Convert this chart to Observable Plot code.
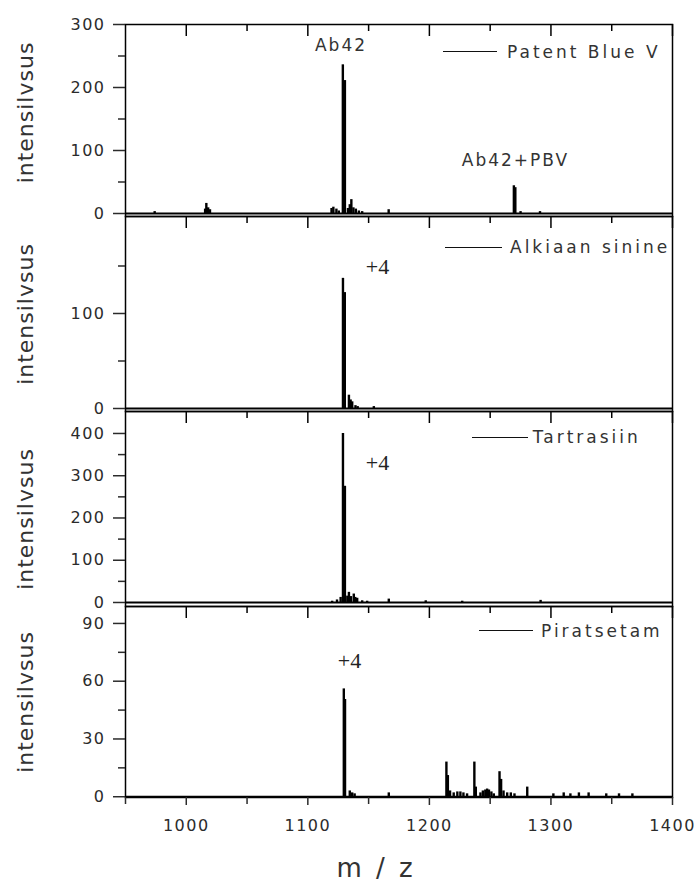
<!DOCTYPE html>
<html><head><meta charset="utf-8">
<script src="https://cdn.jsdelivr.net/npm/d3@7"></script>
<script src="https://cdn.jsdelivr.net/npm/@observablehq/plot@0.6"></script>
<style>
body{margin:0;background:#fff;}
#chart{position:relative;width:698px;height:886px;font-family:"DejaVu Sans",sans-serif;color:#2b2b2b;}
#chart svg{position:absolute;left:0;}
.legend{position:absolute;height:20px;display:flex;align-items:center;white-space:nowrap;font-size:17px;letter-spacing:3px;color:#333;font-family:"DejaVu Sans",sans-serif;}
.legend .swatch{display:inline-block;height:0;border-top:1.6px solid #111;}
</style></head><body><div id="chart"></div>
<script>
// ---------- data ----------
const xMajorTicks = [1000, 1100, 1200, 1300, 1400];
const xMinorTicks = [950, 1050, 1150, 1250, 1350];
const panelNames = ["Patent Blue V", "Alkiaan sinine", "Tartrasiin", "Piratsetam"];
const yAxisTitle = "intensilvsus";
const xAxisTitle = "m / z";
const yMajorTicks = [[0, 100, 200, 300], [0, 100], [0, 100, 200, 300, 400], [0, 30, 60, 90]];
const yMinorTicks = [[50, 150, 250], [50, 150], [50, 150, 250, 350], [15, 45, 75]];

// [m/z, intensity]
const patentBlueV = [
  [974, 3], [1015.5, 7], [1016.5, 16], [1018, 9], [1019.5, 6],
  [1119.5, 8], [1121, 10], [1123.5, 7], [1125.5, 4],
  [1128.8, 236], [1130.5, 211], [1133, 8], [1134.5, 14], [1135.8, 22],
  [1137.5, 9], [1139.5, 7], [1142, 4], [1144.7, 3], [1166.5, 6],
  [1269.5, 44], [1270.7, 41], [1275, 3], [1291, 3]
];
const alkiaanSinine = [
  [1128.9, 137], [1130.4, 122], [1133.8, 14], [1135.2, 9], [1136.5, 7],
  [1139.2, 3], [1141, 2], [1154.3, 2]
];
const tartrasiin = [
  [1120, 3], [1124, 6], [1127, 12], [1128.9, 400], [1130.5, 275],
  [1132.5, 15], [1133.8, 24], [1135.5, 14], [1137.8, 20], [1139, 12],
  [1140.6, 10], [1144.7, 4], [1148.8, 3], [1166.6, 8], [1197, 4],
  [1227, 3], [1291.5, 5]
];
const piratsetam = [
  [1129.6, 56], [1130.6, 50.5], [1134.5, 3], [1136.5, 2], [1138.5, 1.5],
  [1166.6, 2], [1214, 18], [1215.2, 11], [1217, 3], [1220, 2],
  [1223, 2.5], [1225.5, 2.5], [1228, 2], [1231, 1.5], [1237, 18],
  [1238.2, 5], [1242, 2], [1244, 3], [1246, 3.5], [1247.5, 4],
  [1249, 3.5], [1251, 2.5], [1253, 1.5], [1257.7, 13], [1259, 9],
  [1261, 3], [1264, 2], [1267, 2], [1270, 1.5], [1280.5, 5],
  [1302, 1.5], [1310.5, 2], [1316, 1.5], [1323, 2], [1331, 2],
  [1345.5, 1.5], [1356, 1.5], [1367, 1.5]
];
const spectra = [patentBlueV, alkiaanSinine, tartrasiin, piratsetam];

// peak annotations: panel, m/z, intensity, text
const sansLabels = [
  {panel: 0, mz: 1127.3, i: 266.7, text: "Ab42"},
  {panel: 0, mz: 1270.8, i: 84, text: "Ab42+PBV"}
];
const serifLabels = [
  {panel: 1, mz: 1157.3, i: 148.7, text: "+4"},
  {panel: 2, mz: 1157.3, i: 330.6, text: "+4"},
  {panel: 3, mz: 1134.3, i: 70.5, text: "+4"}
];

// ---------- layout (positions / scales) ----------
const layout = [
  {top: 24, bottom: 216, yDomain: [-4.76, 300], labelDy: -8, legend: {x: 443, y: 51.7, line: 54, gap: 10}},
  {top: 216, bottom: 411, yDomain: [-3.16, 202.1], labelDy: 0, legend: {x: 445, y: 247.3, line: 57, gap: 8}},
  {top: 411, bottom: 606, yDomain: [-9.5, 452], labelDy: 10, legend: {x: 471.7, y: 437.3, line: 56, gap: 5}},
  {top: 606, bottom: 797, yDomain: [-0.4, 98.8], labelDy: 0, legend: {x: 479, y: 630.7, line: 54, gap: 8}}
];
const W = 698, LEFT = 125, RIGHT = 672, M = 20;
const SERIF = "'Liberation Serif', 'Times New Roman', serif";

const chart = document.getElementById("chart");
layout.forEach((L, k) => {
  const fh = L.bottom - L.top;
  const last = k === layout.length - 1;
  const mb = last ? 89 : M;
  const marks = [
    Plot.ruleY([0], {stroke: "#000", strokeWidth: 2.2}),
    Plot.ruleX(spectra[k], {x: d => d[0], y: d => d[1], stroke: "#000", strokeWidth: 2.4}),
    Plot.frame({stroke: "#000", strokeWidth: 1.5}),
    Plot.tickX(xMajorTicks, {x: d => d, insetBottom: fh - 12, stroke: "#000", strokeWidth: 1.5}),
    Plot.tickX(xMinorTicks.filter(v => v > 950), {x: d => d, insetBottom: fh - 7, stroke: "#000", strokeWidth: 1.5}),
    Plot.axisY(yMajorTicks[k], {tickSize: 12, tickPadding: 8, tickFormat: d => String(d), label: null, fontSize: 16, strokeWidth: 1.5}),
    Plot.axisY(yMinorTicks[k], {tickSize: 7, tickFormat: () => "", label: null, strokeWidth: 1.5}),
    Plot.text([yAxisTitle], {frameAnchor: "left", textAnchor: "middle", rotate: -90, dx: -100, dy: L.labelDy, fontSize: 22, fill: "#333"}),
    Plot.text(sansLabels.filter(a => a.panel === k), {x: "mz", y: "i", text: "text", fontSize: 17, fill: "#333"}),
    Plot.text(serifLabels.filter(a => a.panel === k), {x: "mz", y: "i", text: "text", fontSize: 22, fontFamily: SERIF, fill: "#222"})
  ];
  if (last) {
    marks.push(
      Plot.axisX(xMajorTicks, {anchor: "bottom", tickSize: 8, tickPadding: 14, tickFormat: d => String(d), label: null, fontSize: 16, strokeWidth: 1.5}),
      Plot.axisX(xMinorTicks, {anchor: "bottom", tickSize: 7, tickFormat: () => "", label: null, strokeWidth: 1.5}),
      Plot.text([xAxisTitle], {frameAnchor: "bottom", dy: 79, dx: -23, fontSize: 26, fill: "#333"})
    );
  }
  const svg = Plot.plot({
    width: W,
    height: fh + M + mb,
    marginLeft: LEFT, marginRight: W - RIGHT, marginTop: M, marginBottom: mb,
    x: {domain: [950, 1400], axis: last ? undefined : null},
    y: {domain: L.yDomain, label: null},
    style: {fontFamily: "DejaVu Sans, sans-serif", fontSize: "16px", color: "#2b2b2b", overflow: "visible", background: "transparent", letterSpacing: "1.5px"},
    marks
  });
  svg.style.top = (L.top - M) + "px";
  d3.select(svg).selectAll("text").each(function () {
    const t = this.textContent;
    if (t === yAxisTitle) this.setAttribute("letter-spacing", "1px");
    else if (t === xAxisTitle) this.setAttribute("letter-spacing", "3px");
    else if (t === "+4") { this.setAttribute("letter-spacing", "0px"); this.style.fontFamily = SERIF; }
    else if (t.startsWith("Ab42")) this.setAttribute("letter-spacing", "2px");
  });
  chart.appendChild(svg);

  const lg = document.createElement("div");
  lg.className = "legend";
  lg.style.left = L.legend.x + "px";
  lg.style.top = (L.legend.y - 10) + "px";
  const sw = document.createElement("span");
  sw.className = "swatch";
  sw.style.width = L.legend.line + "px";
  sw.style.marginRight = L.legend.gap + "px";
  lg.appendChild(sw);
  lg.appendChild(document.createTextNode(panelNames[k]));
  chart.appendChild(lg);
});
</script></body></html>
